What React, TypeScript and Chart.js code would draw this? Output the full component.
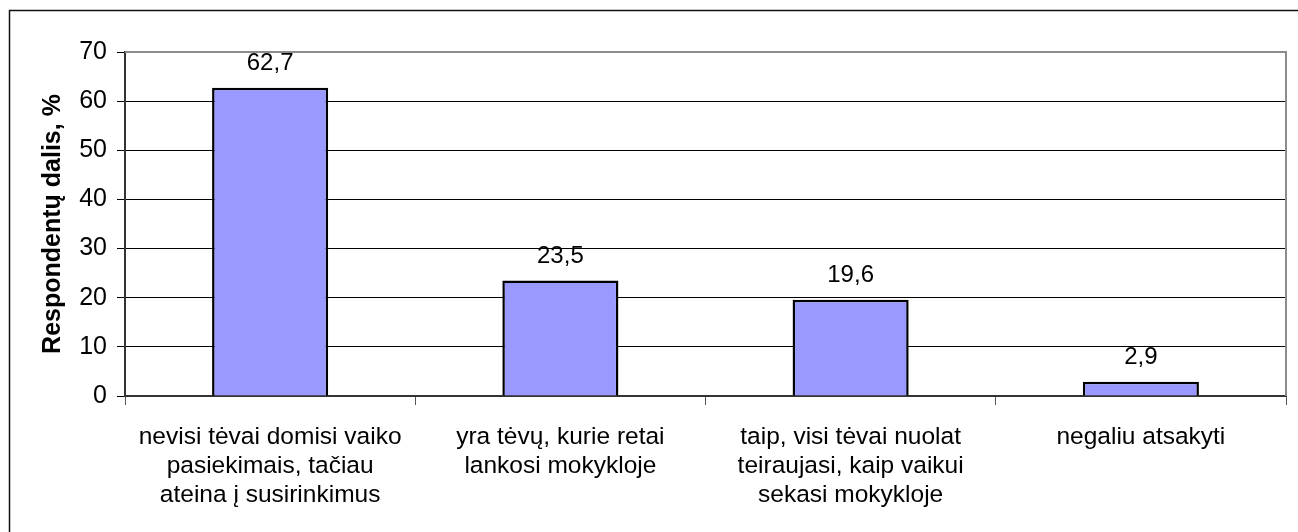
import React, { useEffect, useRef } from "react";
import { Chart, registerables } from "chart.js";

Chart.register(...registerables);

const categories: string[][] = [
  ["nevisi tėvai domisi vaiko", "pasiekimais, tačiau", "ateina į susirinkimus"],
  ["yra tėvų, kurie retai", "lankosi mokykloje"],
  ["taip, visi tėvai nuolat", "teiraujasi, kaip vaikui", "sekasi mokykloje"],
  ["negaliu atsakyti"],
];
const values: number[] = [62.7, 23.5, 19.6, 2.9];
const valueLabels: string[] = ["62,7", "23,5", "19,6", "2,9"];
const yTicks: number[] = [0, 10, 20, 30, 40, 50, 60, 70];
const yTitle = "Respondentų dalis, %";

const FONT = "'Liberation Sans', Arial, sans-serif";

const framePlugin = {
  id: "frame",
  beforeDraw(chart: any) {
    const { ctx } = chart;
    ctx.save();
    ctx.strokeStyle = "#111";
    ctx.lineWidth = 1.5;
    ctx.beginPath();
    ctx.moveTo(1298, 10.5);
    ctx.lineTo(9.5, 10.5);
    ctx.lineTo(9.5, 532);
    ctx.stroke();
    ctx.restore();
  },
  afterDraw(chart: any) {
    const { ctx, chartArea } = chart;
    ctx.save();
    ctx.strokeStyle = "#8c8c8c";
    ctx.lineWidth = 2;
    ctx.beginPath();
    ctx.moveTo(chartArea.left, chartArea.top);
    ctx.lineTo(chartArea.right, chartArea.top);
    ctx.lineTo(chartArea.right, chartArea.bottom);
    ctx.stroke();
    ctx.restore();
  },
};

const labelPlugin = {
  id: "valueLabels",
  afterDatasetsDraw(chart: any) {
    const { ctx } = chart;
    const meta = chart.getDatasetMeta(0);
    ctx.save();
    ctx.fillStyle = "#000";
    ctx.font = `24px ${FONT}`;
    ctx.textAlign = "center";
    ctx.textBaseline = "alphabetic";
    meta.data.forEach((bar: any, i: number) => {
      ctx.fillText(valueLabels[i], bar.x, bar.y - 18);
    });
    ctx.restore();
  },
};

export default function App() {
  const ref = useRef<HTMLCanvasElement>(null);
  useEffect(() => {
    if (!ref.current) return;
    const chart = new Chart(ref.current, {
      type: "bar",
      data: {
        labels: categories,
        datasets: [
          {
            data: values,
            backgroundColor: "#9999ff",
            borderColor: "#000",
            borderWidth: 2.5,
            barPercentage: 0.4,
            categoryPercentage: 1,
          },
        ],
      },
      options: {
        responsive: false,
        animation: false,
        devicePixelRatio: 1,
        layout: { padding: { left: 10, top: 52, right: 12, bottom: 0 } },
        plugins: {
          legend: { display: false },
          tooltip: { enabled: false },
          title: { display: false },
        },
        scales: {
          x: {
            offset: true,
            afterFit(scale: any) {
              scale.height = 136;
            },
            grid: {
              offset: true,
              drawOnChartArea: false,
              drawTicks: true,
              tickLength: 9,
              tickColor: "#555",
              color: "#555",
            },
            border: { display: true, color: "#333", width: 2 },
            ticks: {
              color: "#000",
              padding: 18,
              maxRotation: 0,
              autoSkip: false,
              font: { family: FONT, size: 24.5, lineHeight: "29px" },
            },
          },
          y: {
            min: 0,
            max: 70,
            afterFit(scale: any) {
              scale.width = 115;
            },
            afterBuildTicks(scale: any) {
              scale.ticks = yTicks.map((v) => ({ value: v }));
            },
            grid: {
              color: (c: any) => (c.tick && c.tick.value === 70 ? "rgba(0,0,0,0)" : "#000"),
              lineWidth: 1,
              tickLength: 8,
              tickColor: "#000",
            },
            border: { display: true, color: "#333", width: 2 },
            ticks: {
              color: "#000",
              padding: 10,
              font: { family: FONT, size: 25 },
            },
            title: {
              display: true,
              text: yTitle,
              color: "#000",
              padding: { top: 28, bottom: 0 },
              font: { family: FONT, size: 25, weight: "bold", lineHeight: 1.2 },
            },
          },
        },
      },
      plugins: [framePlugin, labelPlugin],
    });
    return () => chart.destroy();
  }, []);
  return (
    <canvas
      ref={ref}
      width={1298}
      height={532}
      style={{ position: "fixed", left: 0, top: 0, width: 1298, height: 532, display: "block" }}
    />
  );
}
